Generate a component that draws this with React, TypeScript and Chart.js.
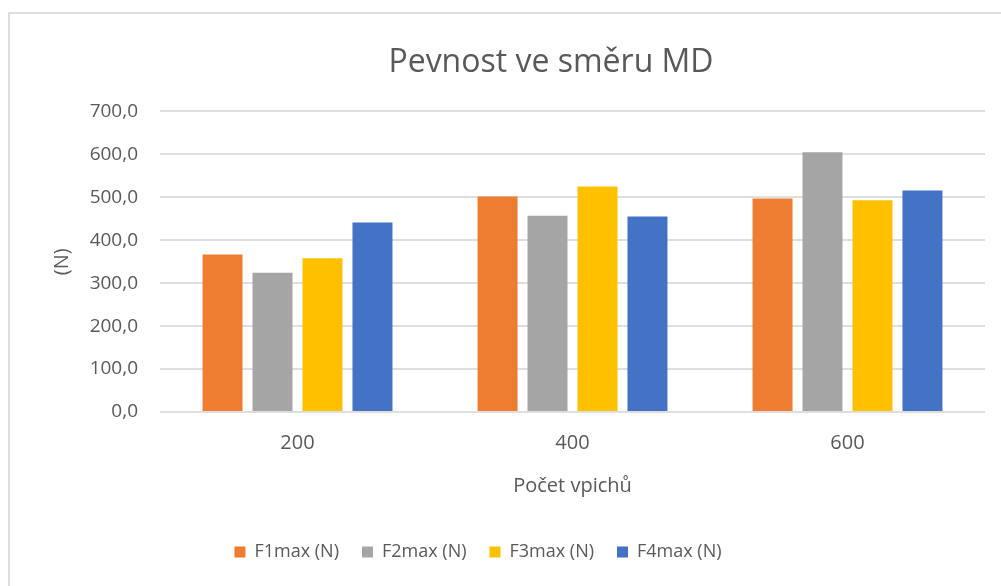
import React, { useEffect, useRef } from "react";
import { Chart, registerables } from "chart.js";

Chart.register(...registerables);

const categories = ["200", "400", "600"];
const seriesNames = ["F1max (N)", "F2max (N)", "F3max (N)", "F4max (N)"];
const f1Values = [367, 502, 497];
const f2Values = [324, 457, 605];
const f3Values = [358, 525, 493];
const f4Values = [441, 455, 516];
const yTickValues = [0, 100, 200, 300, 400, 500, 600, 700];
const seriesColors = ["#ED7D31", "#A5A5A5", "#FFC000", "#4472C4"];

const chartTitle = "Pevnost ve směru MD";
const xTitle = "Počet vpichů";
const yTitle = "(N)";

const FONT = "'Open Sans', sans-serif";
const TEXT = "#595959";

// horizontal centres of the title and legend (placed off-centre in the original)
const TITLE_CENTER_X = 551;
const LEGEND_CENTER_X = 478;

const shiftPlugin = {
  id: "shiftBlocks",
  afterLayout(chart: any) {
    const t = chart.titleBlock;
    if (t) {
      const d = TITLE_CENTER_X - (t.left + t.right) / 2;
      t.left += d;
      t.right += d;
    }
    const l = chart.legend;
    if (l) {
      const d = LEGEND_CENTER_X - (l.left + l.right) / 2;
      l.left += d;
      l.right += d;
    }
  },
};

export default function App() {
  const canvasRef = useRef<HTMLCanvasElement | null>(null);

  useEffect(() => {
    if (!canvasRef.current) return;
    const values = [f1Values, f2Values, f3Values, f4Values];
    const chart = new Chart(canvasRef.current, {
      type: "bar",
      data: {
        labels: categories,
        datasets: seriesNames.map((name, i) => ({
          label: name,
          data: values[i],
          backgroundColor: seriesColors[i],
          borderWidth: 0,
          categoryPercentage: 0.727,
          barPercentage: 0.8,
        })),
      },
      plugins: [shiftPlugin],
      options: {
        animation: false,
        responsive: false,
        maintainAspectRatio: false,
        layout: { padding: { left: 0, right: 16, top: 0, bottom: 15 } },
        plugins: {
          title: {
            display: true,
            text: chartTitle,
            color: TEXT,
            font: { family: FONT, size: 32, weight: "normal", lineHeight: 1.2 },
            padding: { top: 44, bottom: 29 },
          },
          legend: {
            position: "bottom",
            labels: {
              color: TEXT,
              font: { family: FONT, size: 18 },
              boxWidth: 11,
              boxHeight: 11,
              padding: 23,
            },
          },
          tooltip: { enabled: false },
        },
        scales: {
          x: {
            grid: { display: false },
            border: { display: false },
            ticks: {
              color: TEXT,
              font: { family: FONT, size: 20 },
              padding: 11,
            },
            title: {
              display: true,
              text: xTitle,
              color: TEXT,
              font: { family: FONT, size: 20, lineHeight: 1.2 },
              padding: { top: 0, bottom: 22 },
            },
            afterFit: (s: any) => {
              s.height = 108;
            },
          },
          y: {
            min: 0,
            max: 700,
            afterBuildTicks: (s: any) => {
              s.ticks = yTickValues.map((v) => ({ value: v }));
            },
            grid: { color: "#dedede", lineWidth: 2, drawTicks: false },
            border: { display: false },
            ticks: {
              color: TEXT,
              font: { family: FONT, size: 19 },
              padding: 22,
              callback: (v: any) => Number(v).toFixed(1).replace(".", ","),
            },
            title: {
              display: true,
              text: yTitle,
              color: TEXT,
              font: { family: FONT, size: 20, lineHeight: 1.2 },
              padding: { top: 50, bottom: 0 },
            },
            afterFit: (s: any) => {
              s.width = 160;
            },
          },
        },
      },
    });
    return () => chart.destroy();
  }, []);

  return (
    <div
      style={{
        position: "fixed",
        left: 0,
        top: 0,
        width: 1001,
        height: 586,
        overflow: "hidden",
        background: "#fff",
      }}
    >
      <div
        style={{
          position: "absolute",
          left: 8,
          top: 12,
          width: 1200,
          height: 800,
          border: "2px solid #dedede",
          boxSizing: "border-box",
        }}
      />
      <canvas
        ref={canvasRef}
        width={1001}
        height={586}
        style={{ position: "absolute", left: 0, top: 0, width: 1001, height: 586 }}
      />
    </div>
  );
}
